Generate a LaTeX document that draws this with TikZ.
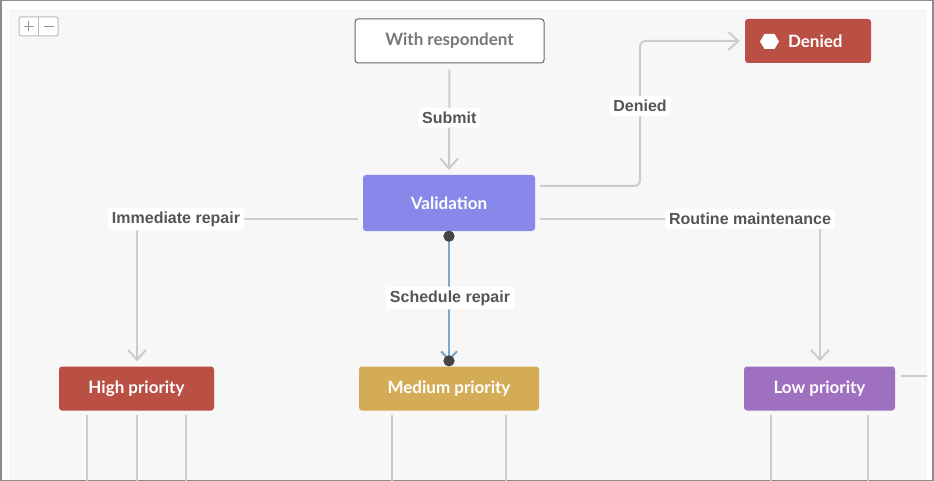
\documentclass[tikz,border=0pt]{standalone}
\usepackage{fontspec}
\setmainfont{Liberation Sans}
\newfontfamily\nodefont{Lato}
\usetikzlibrary{arrows.meta,calc}
\definecolor{bordergray}{HTML}{8C8C8C}
\definecolor{panelbg}{HTML}{F7F7F7}
\definecolor{edgegray}{HTML}{CCCCCC}
\definecolor{labelgray}{HTML}{555555}
\definecolor{startgray}{HTML}{777777}
\definecolor{startborder}{HTML}{666666}
\definecolor{deniedred}{HTML}{BA4F44}
\definecolor{valblue}{HTML}{8888EA}
\definecolor{medgold}{HTML}{D4AC57}
\definecolor{lowpurple}{HTML}{A070C0}
\definecolor{schedblue}{HTML}{7FA8C8}
\definecolor{dotgray}{HTML}{444444}
\definecolor{btngray}{HTML}{BBBBBB}
\tikzset{
  statebox/.style={rounded corners=3pt, minimum height=44pt, inner sep=0pt,
    font=\nodefont\bfseries\fontsize{17}{20}\selectfont, text=white, anchor=center},
  edgeline/.style={draw=edgegray, line width=2pt},
  chevron/.style={-{Straight Barb[length=10pt,width=18pt,line width=2pt]}},
  edgelabel/.style={fill=white, rounded corners=3pt, inner xsep=4pt, inner ysep=4pt,
    font=\bfseries\fontsize{16}{19}\selectfont, text=labelgray},
  enddot/.style={circle, fill=dotgray, inner sep=0pt, minimum size=11pt},
}
\begin{document}
\begin{tikzpicture}[x=1pt,y=-1pt]
\useasboundingbox (0,0) rectangle (934,481);
% frame and panel
\fill[white] (0,0) rectangle (934,481);
\fill[panelbg] (9,9) rectangle (927,481);
\draw[bordergray, line width=1.5pt] (0.75,0.75) rectangle (932.75,480.25);
% zoom buttons
\draw[btngray, fill=white, line width=1pt, rounded corners=2pt] (19,17) rectangle (58,36);
\draw[btngray, line width=1pt] (38.5,17) -- (38.5,36);
\draw[bordergray!90, line width=1.5pt] (23.5,26.5) -- (33.5,26.5) (28.5,21.5) -- (28.5,31.5);
\draw[bordergray!90, line width=1.5pt] (43.5,26.5) -- (53.5,26.5);

% nodes
\node[statebox, draw=startborder, line width=1pt, fill=white, text=startgray,
  minimum width=189pt] (resp) at (449.5,41) {With respondent};
\node[statebox, fill=deniedred, minimum width=126pt, text width=126pt, align=left] (denied) at (808,41) {\hspace{43pt}Denied};
\fill[white] (760,41.5) -- (764.5,34) -- (774.5,34) -- (779,41.5) -- (774.5,49) -- (764.5,49) -- cycle;
\node[statebox, fill=valblue, minimum width=172pt, minimum height=56pt] (val) at (449,203) {Validation};
\node[statebox, fill=deniedred, minimum width=155pt] (high) at (136.5,388.5) {High priority};
\node[statebox, fill=medgold, minimum width=180pt] (med) at (449,388.5) {Medium priority};
\node[statebox, fill=lowpurple, minimum width=151pt] (low) at (819.5,388.5) {Low priority};

% edges
\draw[edgeline, chevron] ($(resp.south)+(0,6)$) -- ($(val.north)+(0,-5)$)
  node[edgelabel, pos=0.48] {Submit};
\draw[edgeline, chevron, rounded corners=6pt] ($(val.east)+(5,-17)$) -- ($(val.east)+(105,-17)$)
  -- ($(denied.west)+(-105,0)$) -- ($(denied.west)+(-5,0)$);
\node[edgelabel] (lblden) at (640,106) {Denied};
\draw[edgeline, chevron] ($(val.west)+(-5,16)$) -| ($(high.north)+(0.5,-5)$);
\node[edgelabel] (lblimm) at (176,219) {Immediate repair};
\draw[edgeline, chevron] ($(val.east)+(5,16)$) -| ($(low.north)+(0.5,-5)$);
\node[edgelabel] (lblrou) at (750,219) {Routine maintenance};
% schedule repair
\node[enddot] (d1) at ($(val.south)+(0,5)$) {};
\node[enddot] (d2) at ($(med.north)+(0,-5.5)$) {};
\draw[schedblue, line width=2.5pt, -{Straight Barb[length=8pt,width=16pt,line width=2pt]}] (d1.center) -- (d2.center);
\node[enddot] at (d2) {};
\node[enddot] at (d1) {};
\node[edgelabel] (lblsch) at (450,298) {Schedule repair};

% outgoing stubs
\foreach \xx in {87,137,186} \draw[edgeline] (\xx,415) -- (\xx,481);
\foreach \xx in {392,506} \draw[edgeline] (\xx,415) -- (\xx,481);
\foreach \xx in {771,868} \draw[edgeline] (\xx,415) -- (\xx,481);
\draw[edgeline] ($(low.east)+(6,-12.5)$) -- (927,376);
\end{tikzpicture}
\end{document}
